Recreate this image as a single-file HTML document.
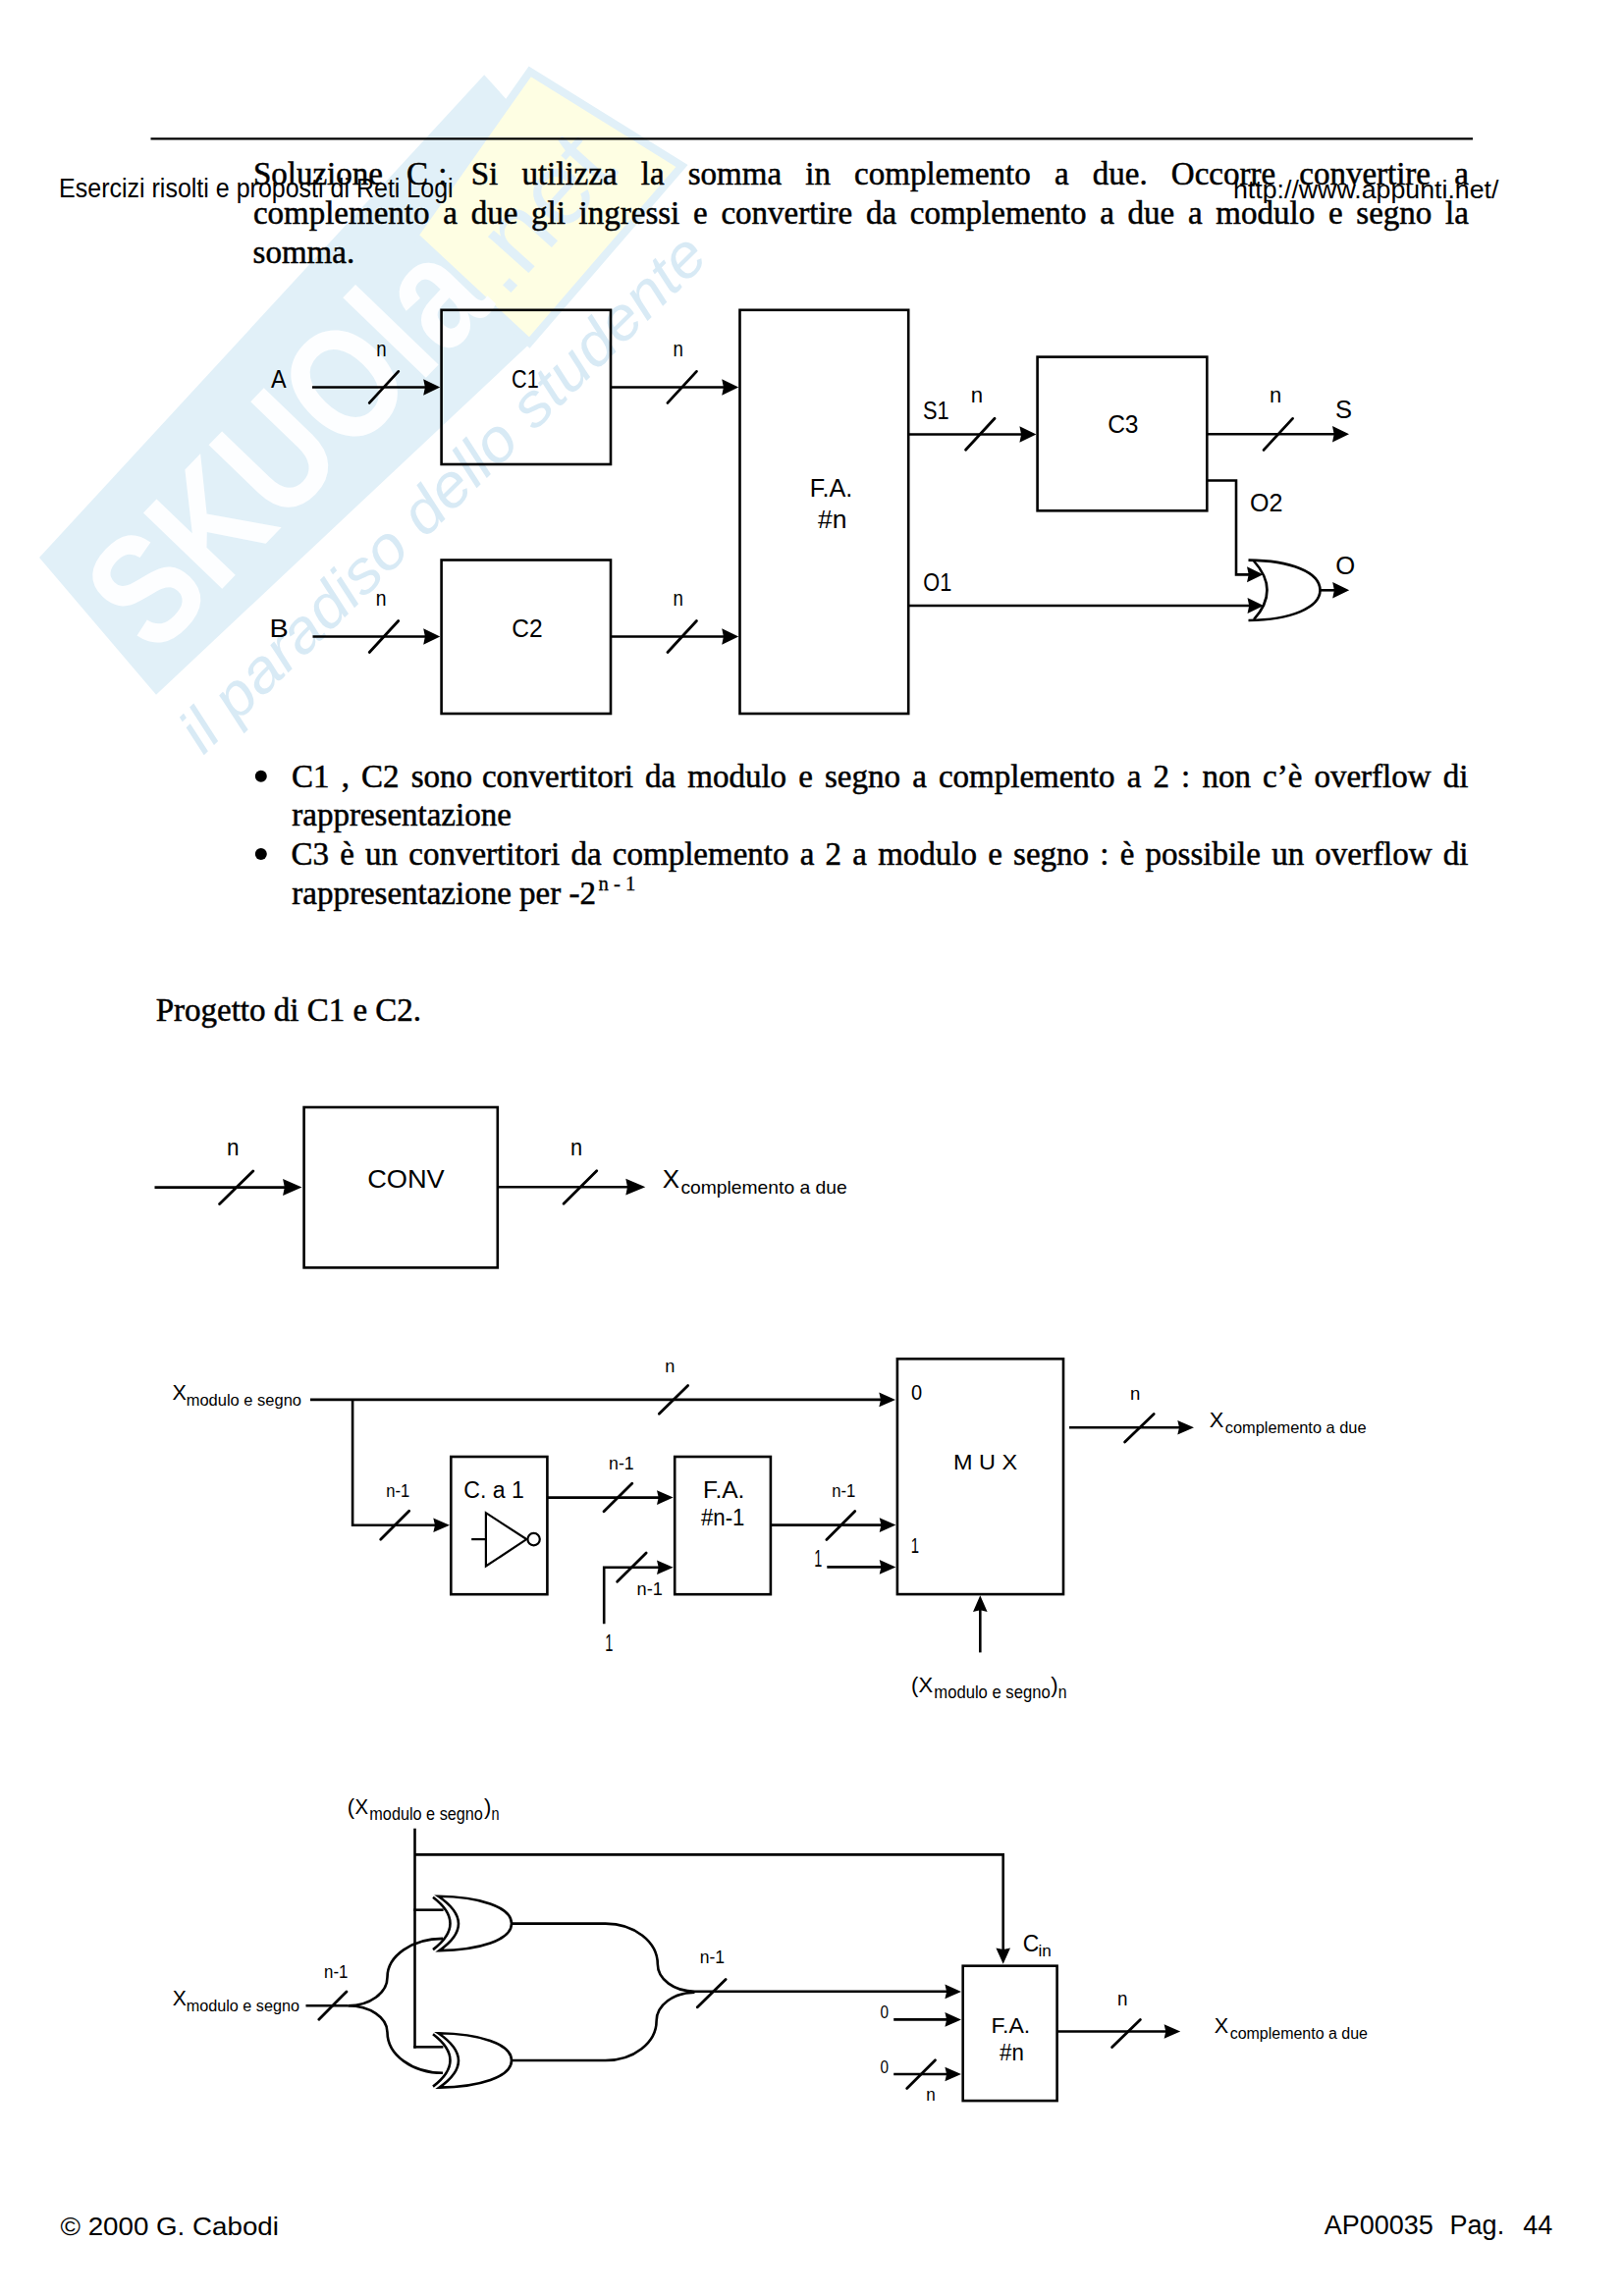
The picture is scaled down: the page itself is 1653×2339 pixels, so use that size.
<!DOCTYPE html>
<html><head><meta charset="utf-8"><title>page</title>
<style>
html,body{margin:0;padding:0;background:#fff;}
body{width:1653px;height:2339px;overflow:hidden;position:relative;}
svg{position:absolute;left:0;top:0;}
</style></head><body>
<svg width="1653" height="2339" viewBox="0 0 1653 2339" xmlns="http://www.w3.org/2000/svg">
<g id="wm">
<polygon points="40,568 493.2,76.3 560,150 545,345 159,707.7" fill="#e1f0f8"/>
<polygon points="539.7,72.9 694.5,169 539.2,349 422,240" fill="#fefee3" stroke="#e1f0f8" stroke-width="8" stroke-linejoin="miter"/>
<text x="8" y="156" transform="translate(40,568) rotate(-46)" font-family="Liberation Sans" font-weight="bold" font-size="162" textLength="500" lengthAdjust="spacingAndGlyphs" fill="#fdfeff">SKUOla</text>
<text x="0" y="0" transform="translate(548,218) rotate(-48) translate(0,33)" font-family="Liberation Sans" font-size="105" text-anchor="middle" fill="#e1f0f8">.net</text>
<text x="0" y="0" transform="translate(207,770) rotate(-44.4)" font-family="Liberation Sans" font-style="italic" font-size="62" textLength="723" lengthAdjust="spacingAndGlyphs" fill="#d8eaf5">il paradiso dello studente</text>
</g>
<g stroke="#000" fill="none">
<line x1="153.5" y1="141.3" x2="1500" y2="141.3" stroke-width="2.2" stroke-linecap="butt"/>
<circle cx="265.8" cy="790.8" r="6" fill="#000" stroke="none"/>
<circle cx="265.8" cy="870.1" r="6" fill="#000" stroke="none"/>
<rect x="449.6" y="315.8" width="172.4" height="157.2" stroke-width="2.6" fill="none"/>
<rect x="449.6" y="570.5" width="172.4" height="156.5" stroke-width="2.6" fill="none"/>
<rect x="753.5" y="315.8" width="171.7" height="411.2" stroke-width="2.6" fill="none"/>
<rect x="1056.6" y="363.6" width="172.7" height="156.7" stroke-width="2.6" fill="none"/>
<line x1="318" y1="394.5" x2="434.2" y2="394.5" stroke-width="2.6" stroke-linecap="butt"/>
<path d="M448.2,394.5 L431.2,402.8 L432.9,394.5 L431.2,386.2 Z" fill="#000" stroke="none"/>
<line x1="376.25" y1="410.4" x2="405.75" y2="378.4" stroke-width="2.8" stroke-linecap="round"/>
<line x1="622" y1="394.5" x2="738.2" y2="394.5" stroke-width="2.6" stroke-linecap="butt"/>
<path d="M752.2,394.5 L735.2,402.8 L736.9,394.5 L735.2,386.2 Z" fill="#000" stroke="none"/>
<line x1="679.95" y1="410.4" x2="709.45" y2="378.4" stroke-width="2.8" stroke-linecap="round"/>
<line x1="318.5" y1="648.5" x2="434.2" y2="648.5" stroke-width="2.6" stroke-linecap="butt"/>
<path d="M448.2,648.5 L431.2,656.8 L432.9,648.5 L431.2,640.2 Z" fill="#000" stroke="none"/>
<line x1="376.25" y1="664.5" x2="405.75" y2="632.5" stroke-width="2.8" stroke-linecap="round"/>
<line x1="622" y1="648.5" x2="738.2" y2="648.5" stroke-width="2.6" stroke-linecap="butt"/>
<path d="M752.2,648.5 L735.2,656.8 L736.9,648.5 L735.2,640.2 Z" fill="#000" stroke="none"/>
<line x1="679.95" y1="664.5" x2="709.45" y2="632.5" stroke-width="2.8" stroke-linecap="round"/>
<line x1="925.2" y1="442.5" x2="1041.4" y2="442.5" stroke-width="2.6" stroke-linecap="butt"/>
<path d="M1055.4,442.5 L1038.4,450.8 L1040.1,442.5 L1038.4,434.2 Z" fill="#000" stroke="none"/>
<line x1="983.55" y1="458.2" x2="1013.05" y2="426.2" stroke-width="2.8" stroke-linecap="round"/>
<line x1="1229.3" y1="442.2" x2="1360" y2="442.2" stroke-width="2.6" stroke-linecap="butt"/>
<path d="M1374,442.2 L1357,450.5 L1358.7,442.2 L1357,433.9 Z" fill="#000" stroke="none"/>
<line x1="1287.05" y1="458.4" x2="1316.55" y2="426.4" stroke-width="2.8" stroke-linecap="round"/>
<path d="M1229.3,489.5 L1259,489.5 L1259,585.4 L1275,585.4" stroke-width="2.6" fill="none" stroke-linejoin="miter"/>
<path d="M1286.5,585.2 L1270,593.2 L1271.7,585.2 L1270,577.2 Z" fill="#000" stroke="none"/>
<line x1="925.2" y1="617" x2="1273.5" y2="617" stroke-width="2.6" stroke-linecap="butt"/>
<path d="M1287,617 L1270.5,625 L1272.2,617 L1270.5,609 Z" fill="#000" stroke="none"/>
<path d="M1271.5,570.6 C1315,571 1344.5,583 1344.5,601.3 C1344.5,619 1315,631.5 1271.5,632" stroke-width="2.6" fill="none"/>
<path d="M1277,571.5 Q1304,601.2 1277,631.2" stroke-width="2.6" fill="none"/>
<line x1="1344.5" y1="601.3" x2="1360.2" y2="601.3" stroke-width="2.6" stroke-linecap="butt"/>
<path d="M1374.2,601.3 L1357.2,609.5 L1358.9,601.3 L1357.2,593.1 Z" fill="#000" stroke="none"/>
<rect x="309.6" y="1128" width="197.2" height="163.4" stroke-width="2.6" fill="none"/>
<line x1="157.5" y1="1209.6" x2="291.1" y2="1209.6" stroke-width="2.6" stroke-linecap="butt"/>
<path d="M307.5,1209.6 L288.1,1218.1 L289.8,1209.6 L288.1,1201.1 Z" fill="#000" stroke="none"/>
<line x1="223.6" y1="1226.55" x2="257.8" y2="1193.05" stroke-width="2.8" stroke-linecap="round"/>
<line x1="506.8" y1="1209.2" x2="640.3" y2="1209.2" stroke-width="2.6" stroke-linecap="butt"/>
<path d="M657.3,1209.2 L637.3,1217.6 L639,1209.2 L637.3,1200.8 Z" fill="#000" stroke="none"/>
<line x1="574.05" y1="1226.35" x2="607.75" y2="1192.85" stroke-width="2.8" stroke-linecap="round"/>
<line x1="316" y1="1425.9" x2="898.3" y2="1425.9" stroke-width="2.6" stroke-linecap="butt"/>
<path d="M912,1425.9 L895.3,1433.2 L897,1425.9 L895.3,1418.6 Z" fill="#000" stroke="none"/>
<line x1="671.35" y1="1440.2" x2="700.65" y2="1411.6" stroke-width="2.8" stroke-linecap="round"/>
<path d="M359.1,1425.9 L359.1,1553.75 L446,1553.75" stroke-width="2.6" fill="none" stroke-linejoin="miter"/>
<path d="M458,1553.75 L441.3,1561.05 L443,1553.75 L441.3,1546.45 Z" fill="#000" stroke="none"/>
<line x1="387.7" y1="1568.3" x2="416.7" y2="1539.3" stroke-width="2.8" stroke-linecap="round"/>
<rect x="459.3" y="1484" width="98.1" height="140.2" stroke-width="2.6" fill="none"/>
<path d="M494.9,1541.2 L494.9,1595.5 L536.3,1568.1 Z" stroke-width="2.2" fill="none"/>
<circle cx="543.6" cy="1568.1" r="6.2" fill="none" stroke-width="2.2"/>
<line x1="480.2" y1="1568.1" x2="494.9" y2="1568.1" stroke-width="2.2" stroke-linecap="butt"/>
<line x1="557.4" y1="1525.6" x2="672" y2="1525.6" stroke-width="2.6" stroke-linecap="butt"/>
<path d="M685.7,1525.6 L669,1532.9 L670.7,1525.6 L669,1518.3 Z" fill="#000" stroke="none"/>
<line x1="615.05" y1="1539.65" x2="643.75" y2="1511.35" stroke-width="2.8" stroke-linecap="round"/>
<rect x="687.2" y="1484" width="97.7" height="140.2" stroke-width="2.6" fill="none"/>
<path d="M615.2,1654.3 L615.2,1596.8 L672,1596.8" stroke-width="2.6" fill="none" stroke-linejoin="miter"/>
<path d="M685.7,1596.8 L669,1604.1 L670.7,1596.8 L669,1589.5 Z" fill="#000" stroke="none"/>
<line x1="628.65" y1="1611.3" x2="658.15" y2="1582.1" stroke-width="2.8" stroke-linecap="round"/>
<line x1="785.2" y1="1553.6" x2="898.7" y2="1553.6" stroke-width="2.6" stroke-linecap="butt"/>
<path d="M912.4,1553.6 L895.7,1560.9 L897.4,1553.6 L895.7,1546.3 Z" fill="#000" stroke="none"/>
<line x1="841.85" y1="1568.45" x2="870.75" y2="1539.55" stroke-width="2.8" stroke-linecap="round"/>
<line x1="842.3" y1="1596.4" x2="898.7" y2="1596.4" stroke-width="2.6" stroke-linecap="butt"/>
<path d="M912.4,1596.4 L895.7,1603.7 L897.4,1596.4 L895.7,1589.1 Z" fill="#000" stroke="none"/>
<rect x="913.9" y="1384.3" width="169.1" height="239.8" stroke-width="2.6" fill="none"/>
<line x1="1089" y1="1454.3" x2="1202.3" y2="1454.3" stroke-width="2.6" stroke-linecap="butt"/>
<path d="M1216,1454.3 L1199.3,1461.6 L1201,1454.3 L1199.3,1447 Z" fill="#000" stroke="none"/>
<line x1="1145.6" y1="1469" x2="1175.2" y2="1440.4" stroke-width="2.8" stroke-linecap="round"/>
<line x1="998.3" y1="1683.4" x2="998.3" y2="1639" stroke-width="2.6" stroke-linecap="butt"/>
<path d="M998.3,1625.3 L1005.6,1642 L998.3,1640.3 L991,1642 Z" fill="#000" stroke="none"/>
<line x1="422.5" y1="1862.7" x2="422.5" y2="2086.6" stroke-width="2.6" stroke-linecap="butt"/>
<path d="M422.5,1889.4 L1021.7,1889.4 L1021.7,1990" stroke-width="2.6" fill="none" stroke-linejoin="miter"/>
<path d="M1021.7,2000.7 L1014.4,1984.4 L1021.7,1986.1 L1029,1984.4 Z" fill="#000" stroke="none"/>
<line x1="421.2" y1="1945.7" x2="451.6" y2="1945.7" stroke-width="2.6" stroke-linecap="butt"/>
<line x1="421.2" y1="2085.3" x2="451.4" y2="2085.3" stroke-width="2.6" stroke-linecap="butt"/>
<path d="M446.4,1931.8 C488,1932.3 521,1942.5 521,1959.5 C521,1976.5 488,1986.6 447.5,1987.1 Q487,1959.5 446.4,1931.8 Z" stroke-width="2.6" fill="none"/>
<path d="M441,1932.8 Q476,1959.5 441,1986.1" stroke-width="2.6" fill="none"/>
<path d="M446.4,2071.3 C488,2071.8 521,2082 521,2099 C521,2116 488,2126.1 447.5,2126.6 Q487,2099 446.4,2071.3 Z" stroke-width="2.6" fill="none"/>
<path d="M441,2072.3 Q476,2099 441,2125.6" stroke-width="2.6" fill="none"/>
<line x1="311.5" y1="2043.3" x2="354.5" y2="2043.3" stroke-width="2.6" stroke-linecap="butt"/>
<path d="M354.5,2043.3 A40,29 0 0 0 394.5,2014.2 A56.5,39.3 0 0 1 451,1974.9" stroke-width="2.6" fill="none"/>
<path d="M354.5,2043.3 A40,27 0 0 1 394.5,2070.2 A56.5,41.6 0 0 0 451,2111.8" stroke-width="2.6" fill="none"/>
<line x1="324.85" y1="2057.3" x2="352.95" y2="2028.9" stroke-width="2.8" stroke-linecap="round"/>
<path d="M521,1959.6 H616.6 A53.2,41.4 0 0 1 669.8,2001 A37.7,27.7 0 0 0 707.5,2028.7 H968" stroke-width="2.6" fill="none"/>
<path d="M522,2099 H616.6 A52,40.3 0 0 0 668.6,2058.7 A38.9,28.9 0 0 1 707.5,2029.8" stroke-width="2.6" fill="none"/>
<path d="M979,2028.9 L962.4,2036.2 L964.1,2028.9 L962.4,2021.6 Z" fill="#000" stroke="none"/>
<line x1="710.3" y1="2044.75" x2="739.1" y2="2016.45" stroke-width="2.8" stroke-linecap="round"/>
<line x1="910.2" y1="2057.4" x2="965.4" y2="2057.4" stroke-width="2.6" stroke-linecap="butt"/>
<path d="M979,2057.4 L962.4,2064.7 L964.1,2057.4 L962.4,2050.1 Z" fill="#000" stroke="none"/>
<line x1="910.2" y1="2113" x2="965.4" y2="2113" stroke-width="2.6" stroke-linecap="butt"/>
<path d="M979,2113 L962.4,2120.3 L964.1,2113 L962.4,2105.7 Z" fill="#000" stroke="none"/>
<line x1="923.7" y1="2127.6" x2="952.5" y2="2098.8" stroke-width="2.8" stroke-linecap="round"/>
<rect x="980.7" y="2002.7" width="95.9" height="137.4" stroke-width="2.6" fill="none"/>
<line x1="1076.6" y1="2069.5" x2="1188.6" y2="2069.5" stroke-width="2.6" stroke-linecap="butt"/>
<path d="M1202.2,2069.5 L1185.6,2076.8 L1187.3,2069.5 L1185.6,2062.2 Z" fill="#000" stroke="none"/>
<line x1="1132.6" y1="2085.4" x2="1161.4" y2="2057.4" stroke-width="2.8" stroke-linecap="round"/>
</g>
<g fill="#000">
<text x="60.08" y="200.9" font-family="'Liberation Sans'" font-size="27.5" textLength="401.53" lengthAdjust="spacingAndGlyphs">Esercizi risolti e proposti di Reti Logi</text>
<text x="1255.95" y="202.3" font-family="'Liberation Sans'" font-size="25.5" textLength="270.49" lengthAdjust="spacingAndGlyphs">http://www.appunti.net/</text>
<text x="61.5" y="2276.6" font-family="'Liberation Sans'" font-size="26.5" textLength="222.43" lengthAdjust="spacingAndGlyphs">© 2000 G. Cabodi</text>
<text x="1348.7" y="2276.3" font-family="'Liberation Sans'" font-size="27">AP00035</text>
<text x="1476.6" y="2276.3" font-family="'Liberation Sans'" font-size="27">Pag.</text>
<text x="1551.2" y="2276.3" font-family="'Liberation Sans'" font-size="27">44</text>
<text x="257.6" y="267.6" font-family="'Liberation Serif'" font-size="33" stroke="#000" stroke-width="0.5">somma.</text>
<text x="297.3" y="841.2" font-family="'Liberation Serif'" font-size="33" stroke="#000" stroke-width="0.5">rappresentazione</text>
<text x="297.3" y="921.4" font-family="'Liberation Serif'" font-size="33" stroke="#000" stroke-width="0.5">rappresentazione per -2</text>
<text x="609.5" y="906.6" font-family="'Liberation Serif'" font-size="21" textLength="37.99" lengthAdjust="spacingAndGlyphs" stroke="#000" stroke-width="0.3">n - 1</text>
<text x="158.7" y="1039.8" font-family="'Liberation Serif'" font-size="33" stroke="#000" stroke-width="0.5">Progetto di C1 e C2.</text>
<text x="276" y="394.8" font-family="'Liberation Sans'" font-size="26" textLength="15.61" lengthAdjust="spacingAndGlyphs">A</text>
<text x="383.23" y="362.6" font-family="'Liberation Sans'" font-size="21.5" textLength="10.4" lengthAdjust="spacingAndGlyphs">n</text>
<text x="521.08" y="394.8" font-family="'Liberation Sans'" font-size="26.5" textLength="27.62" lengthAdjust="spacingAndGlyphs">C1</text>
<text x="685.53" y="362.6" font-family="'Liberation Sans'" font-size="21.5" textLength="10.4" lengthAdjust="spacingAndGlyphs">n</text>
<text x="274.59" y="648.6" font-family="'Liberation Sans'" font-size="26" textLength="19.2" lengthAdjust="spacingAndGlyphs">B</text>
<text x="382.7" y="616.9" font-family="'Liberation Sans'" font-size="21.5" textLength="10.76" lengthAdjust="spacingAndGlyphs">n</text>
<text x="521.26" y="648.6" font-family="'Liberation Sans'" font-size="26" textLength="31.38" lengthAdjust="spacingAndGlyphs">C2</text>
<text x="685.53" y="616.9" font-family="'Liberation Sans'" font-size="21.5" textLength="10.4" lengthAdjust="spacingAndGlyphs">n</text>
<text x="824.86" y="505.7" font-family="'Liberation Sans'" font-size="26" textLength="43.5" lengthAdjust="spacingAndGlyphs">F.A.</text>
<text x="833" y="537.8" font-family="'Liberation Sans'" font-size="26" textLength="29.49" lengthAdjust="spacingAndGlyphs">#n</text>
<text x="939.96" y="426.5" font-family="'Liberation Sans'" font-size="26" textLength="26.62" lengthAdjust="spacingAndGlyphs">S1</text>
<text x="988.89" y="409.8" font-family="'Liberation Sans'" font-size="22" textLength="12.36" lengthAdjust="spacingAndGlyphs">n</text>
<text x="1128.14" y="441.4" font-family="'Liberation Sans'" font-size="25.6" textLength="31.38" lengthAdjust="spacingAndGlyphs">C3</text>
<text x="1293" y="409.8" font-family="'Liberation Sans'" font-size="22" textLength="12.24" lengthAdjust="spacingAndGlyphs">n</text>
<text x="1360.1" y="426.2" font-family="'Liberation Sans'" font-size="25.5" textLength="17.01" lengthAdjust="spacingAndGlyphs">S</text>
<text x="1273.12" y="521.3" font-family="'Liberation Sans'" font-size="25.5" textLength="33.45" lengthAdjust="spacingAndGlyphs">O2</text>
<text x="940.27" y="601.5" font-family="'Liberation Sans'" font-size="26" textLength="28.92" lengthAdjust="spacingAndGlyphs">O1</text>
<text x="1360.29" y="584.8" font-family="'Liberation Sans'" font-size="25.5" textLength="19.94" lengthAdjust="spacingAndGlyphs">O</text>
<text x="374.17" y="1209.6" font-family="'Liberation Sans'" font-size="26.4" textLength="78.62" lengthAdjust="spacingAndGlyphs">CONV</text>
<text x="231.06" y="1177" font-family="'Liberation Sans'" font-size="24" textLength="12.5" lengthAdjust="spacingAndGlyphs">n</text>
<text x="581.09" y="1176.9" font-family="'Liberation Sans'" font-size="24" textLength="12.13" lengthAdjust="spacingAndGlyphs">n</text>
<text x="674.7" y="1209.6" font-family="'Liberation Sans'" font-size="26.7" textLength="17.31" lengthAdjust="spacingAndGlyphs">X</text>
<text x="693.4" y="1215.7" font-family="'Liberation Sans'" font-size="19" textLength="169.38" lengthAdjust="spacingAndGlyphs">complemento a due</text>
<text x="175.4" y="1425.6" font-family="'Liberation Sans'" font-size="22.6" textLength="14.37" lengthAdjust="spacingAndGlyphs">X</text>
<text x="189.67" y="1431.6" font-family="'Liberation Sans'" font-size="16" textLength="117.33" lengthAdjust="spacingAndGlyphs">modulo e segno</text>
<text x="677.24" y="1397.7" font-family="'Liberation Sans'" font-size="19" textLength="10.1" lengthAdjust="spacingAndGlyphs">n</text>
<text x="393.33" y="1524.7" font-family="'Liberation Sans'" font-size="19" textLength="23.97" lengthAdjust="spacingAndGlyphs">n-1</text>
<text x="472.3" y="1525.6" font-family="'Liberation Sans'" font-size="23" textLength="61.5" lengthAdjust="spacingAndGlyphs">C. a 1</text>
<text x="620.07" y="1497" font-family="'Liberation Sans'" font-size="19" textLength="25.66" lengthAdjust="spacingAndGlyphs">n-1</text>
<text x="716.13" y="1525.8" font-family="'Liberation Sans'" font-size="23" textLength="42.25" lengthAdjust="spacingAndGlyphs">F.A.</text>
<text x="714" y="1553.6" font-family="'Liberation Sans'" font-size="23" textLength="44.46" lengthAdjust="spacingAndGlyphs">#n-1</text>
<text x="648.54" y="1624.8" font-family="'Liberation Sans'" font-size="19" textLength="26.3" lengthAdjust="spacingAndGlyphs">n-1</text>
<text x="616.16" y="1681.7" font-family="'Liberation Sans'" font-size="23" textLength="8.14" lengthAdjust="spacingAndGlyphs">1</text>
<text x="847.22" y="1524.9" font-family="'Liberation Sans'" font-size="19" textLength="24.18" lengthAdjust="spacingAndGlyphs">n-1</text>
<text x="829.27" y="1596.4" font-family="'Liberation Sans'" font-size="23" textLength="8.02" lengthAdjust="spacingAndGlyphs">1</text>
<text x="928" y="1425.6" font-family="'Liberation Sans'" font-size="22.7" textLength="11.15" lengthAdjust="spacingAndGlyphs">0</text>
<text x="927.83" y="1581.6" font-family="'Liberation Sans'" font-size="22.2" textLength="8.3" lengthAdjust="spacingAndGlyphs">1</text>
<text x="971.08" y="1496.7" font-family="'Liberation Sans'" font-size="22.9" textLength="65.1" lengthAdjust="spacingAndGlyphs">M U X</text>
<text x="1151.12" y="1425.7" font-family="'Liberation Sans'" font-size="19" textLength="10.33" lengthAdjust="spacingAndGlyphs">n</text>
<text x="1231.7" y="1454.4" font-family="'Liberation Sans'" font-size="22.5" textLength="14.61" lengthAdjust="spacingAndGlyphs">X</text>
<text x="1247.7" y="1459.7" font-family="'Liberation Sans'" font-size="16.5" textLength="143.88" lengthAdjust="spacingAndGlyphs">complemento a due</text>
<text x="927.9" y="1723.5" font-family="'Liberation Sans'" font-size="22">(</text>
<text x="935.5" y="1723.5" font-family="'Liberation Sans'" font-size="22" textLength="14.67" lengthAdjust="spacingAndGlyphs">X</text>
<text x="951.32" y="1729.7" font-family="'Liberation Sans'" font-size="19" textLength="118.37" lengthAdjust="spacingAndGlyphs">modulo e segno</text>
<text x="1070.3" y="1723.5" font-family="'Liberation Sans'" font-size="22">)</text>
<text x="1077.7" y="1729.7" font-family="'Liberation Sans'" font-size="17.5" textLength="8.76" lengthAdjust="spacingAndGlyphs">n</text>
<text x="353.8" y="1847.7" font-family="'Liberation Sans'" font-size="22">(</text>
<text x="361.6" y="1847.7" font-family="'Liberation Sans'" font-size="22" textLength="13.6" lengthAdjust="spacingAndGlyphs">X</text>
<text x="376.35" y="1853.6" font-family="'Liberation Sans'" font-size="19" textLength="115.54" lengthAdjust="spacingAndGlyphs">modulo e segno</text>
<text x="493" y="1847.7" font-family="'Liberation Sans'" font-size="22">)</text>
<text x="500.57" y="1853.6" font-family="'Liberation Sans'" font-size="17.5" textLength="8.03" lengthAdjust="spacingAndGlyphs">n</text>
<text x="330.01" y="2014.7" font-family="'Liberation Sans'" font-size="19" textLength="24.39" lengthAdjust="spacingAndGlyphs">n-1</text>
<text x="175.7" y="2042.7" font-family="'Liberation Sans'" font-size="22.7" textLength="14.12" lengthAdjust="spacingAndGlyphs">X</text>
<text x="189.69" y="2048.6" font-family="'Liberation Sans'" font-size="16" textLength="115.31" lengthAdjust="spacingAndGlyphs">modulo e segno</text>
<text x="712.68" y="2000.4" font-family="'Liberation Sans'" font-size="19" textLength="25.35" lengthAdjust="spacingAndGlyphs">n-1</text>
<text x="896.6" y="2055.8" font-family="'Liberation Sans'" font-size="18" textLength="8.51" lengthAdjust="spacingAndGlyphs">0</text>
<text x="896.6" y="2111.7" font-family="'Liberation Sans'" font-size="18" textLength="8.51" lengthAdjust="spacingAndGlyphs">0</text>
<text x="943.18" y="2139.7" font-family="'Liberation Sans'" font-size="18.5" textLength="9.49" lengthAdjust="spacingAndGlyphs">n</text>
<text x="1041.71" y="1987.8" font-family="'Liberation Sans'" font-size="23" textLength="16.5" lengthAdjust="spacingAndGlyphs">C</text>
<text x="1057.5" y="1992.9" font-family="'Liberation Sans'" font-size="15.6" textLength="13.34" lengthAdjust="spacingAndGlyphs">in</text>
<text x="1009.49" y="2070.5" font-family="'Liberation Sans'" font-size="22.7" textLength="39.64" lengthAdjust="spacingAndGlyphs">F.A.</text>
<text x="1018" y="2098.9" font-family="'Liberation Sans'" font-size="23.6" textLength="24.76" lengthAdjust="spacingAndGlyphs">#n</text>
<text x="1138.03" y="2043.1" font-family="'Liberation Sans'" font-size="19.5" textLength="10.48" lengthAdjust="spacingAndGlyphs">n</text>
<text x="1236.7" y="2070.5" font-family="'Liberation Sans'" font-size="22.5" textLength="14.41" lengthAdjust="spacingAndGlyphs">X</text>
<text x="1252.7" y="2076.6" font-family="'Liberation Sans'" font-size="16" textLength="140.2" lengthAdjust="spacingAndGlyphs">complemento a due</text>
<text x="257.9" y="187.5" font-family="'Liberation Serif'" font-size="33" stroke="#000" stroke-width="0.5">Soluzione</text>
<text x="414.07" y="187.5" font-family="'Liberation Serif'" font-size="33" stroke="#000" stroke-width="0.5">C</text>
<text x="446.37" y="187.5" font-family="'Liberation Serif'" font-size="33" stroke="#000" stroke-width="0.5">:</text>
<text x="479.72" y="187.5" font-family="'Liberation Serif'" font-size="33" stroke="#000" stroke-width="0.5">Si</text>
<text x="531.43" y="187.5" font-family="'Liberation Serif'" font-size="33" stroke="#000" stroke-width="0.5">utilizza</text>
<text x="652.73" y="187.5" font-family="'Liberation Serif'" font-size="33" stroke="#000" stroke-width="0.5">la</text>
<text x="700.74" y="187.5" font-family="'Liberation Serif'" font-size="33" stroke="#000" stroke-width="0.5">somma</text>
<text x="820.25" y="187.5" font-family="'Liberation Serif'" font-size="33" stroke="#000" stroke-width="0.5">in</text>
<text x="870.1" y="187.5" font-family="'Liberation Serif'" font-size="33" stroke="#000" stroke-width="0.5">complemento</text>
<text x="1073.9" y="187.5" font-family="'Liberation Serif'" font-size="33" stroke="#000" stroke-width="0.5">a</text>
<text x="1112.74" y="187.5" font-family="'Liberation Serif'" font-size="33" stroke="#000" stroke-width="0.5">due.</text>
<text x="1192.82" y="187.5" font-family="'Liberation Serif'" font-size="33" stroke="#000" stroke-width="0.5">Occorre</text>
<text x="1323.26" y="187.5" font-family="'Liberation Serif'" font-size="33" stroke="#000" stroke-width="0.5">convertire</text>
<text x="1481.2" y="187.5" font-family="'Liberation Serif'" font-size="33" stroke="#000" stroke-width="0.5">a</text>
<text x="257.9" y="227.7" font-family="'Liberation Serif'" font-size="33" stroke="#000" stroke-width="0.5">complemento</text>
<text x="451.26" y="227.7" font-family="'Liberation Serif'" font-size="33" stroke="#000" stroke-width="0.5">a</text>
<text x="479.65" y="227.7" font-family="'Liberation Serif'" font-size="33" stroke="#000" stroke-width="0.5">due</text>
<text x="541.04" y="227.7" font-family="'Liberation Serif'" font-size="33" stroke="#000" stroke-width="0.5">gli</text>
<text x="589.62" y="227.7" font-family="'Liberation Serif'" font-size="33" stroke="#000" stroke-width="0.5">ingressi</text>
<text x="706.02" y="227.7" font-family="'Liberation Serif'" font-size="33" stroke="#000" stroke-width="0.5">e</text>
<text x="734.41" y="227.7" font-family="'Liberation Serif'" font-size="33" stroke="#000" stroke-width="0.5">convertire</text>
<text x="881.91" y="227.7" font-family="'Liberation Serif'" font-size="33" stroke="#000" stroke-width="0.5">da</text>
<text x="926.8" y="227.7" font-family="'Liberation Serif'" font-size="33" stroke="#000" stroke-width="0.5">complemento</text>
<text x="1120.16" y="227.7" font-family="'Liberation Serif'" font-size="33" stroke="#000" stroke-width="0.5">a</text>
<text x="1148.55" y="227.7" font-family="'Liberation Serif'" font-size="33" stroke="#000" stroke-width="0.5">due</text>
<text x="1209.94" y="227.7" font-family="'Liberation Serif'" font-size="33" stroke="#000" stroke-width="0.5">a</text>
<text x="1238.33" y="227.7" font-family="'Liberation Serif'" font-size="33" stroke="#000" stroke-width="0.5">modulo</text>
<text x="1352.91" y="227.7" font-family="'Liberation Serif'" font-size="33" stroke="#000" stroke-width="0.5">e</text>
<text x="1381.3" y="227.7" font-family="'Liberation Serif'" font-size="33" stroke="#000" stroke-width="0.5">segno</text>
<text x="1472.03" y="227.7" font-family="'Liberation Serif'" font-size="33" stroke="#000" stroke-width="0.5">la</text>
<text x="297" y="801.6" font-family="'Liberation Serif'" font-size="33" stroke="#000" stroke-width="0.5">C1</text>
<text x="347.64" y="801.6" font-family="'Liberation Serif'" font-size="33" stroke="#000" stroke-width="0.5">,</text>
<text x="368.03" y="801.6" font-family="'Liberation Serif'" font-size="33" stroke="#000" stroke-width="0.5">C2</text>
<text x="418.67" y="801.6" font-family="'Liberation Serif'" font-size="33" stroke="#000" stroke-width="0.5">sono</text>
<text x="490.91" y="801.6" font-family="'Liberation Serif'" font-size="33" stroke="#000" stroke-width="0.5">convertitori</text>
<text x="656.99" y="801.6" font-family="'Liberation Serif'" font-size="33" stroke="#000" stroke-width="0.5">da</text>
<text x="700.27" y="801.6" font-family="'Liberation Serif'" font-size="33" stroke="#000" stroke-width="0.5">modulo</text>
<text x="813.24" y="801.6" font-family="'Liberation Serif'" font-size="33" stroke="#000" stroke-width="0.5">e</text>
<text x="840.02" y="801.6" font-family="'Liberation Serif'" font-size="33" stroke="#000" stroke-width="0.5">segno</text>
<text x="929.15" y="801.6" font-family="'Liberation Serif'" font-size="33" stroke="#000" stroke-width="0.5">a</text>
<text x="955.93" y="801.6" font-family="'Liberation Serif'" font-size="33" stroke="#000" stroke-width="0.5">complemento</text>
<text x="1147.68" y="801.6" font-family="'Liberation Serif'" font-size="33" stroke="#000" stroke-width="0.5">a</text>
<text x="1174.46" y="801.6" font-family="'Liberation Serif'" font-size="33" stroke="#000" stroke-width="0.5">2</text>
<text x="1203.09" y="801.6" font-family="'Liberation Serif'" font-size="33" stroke="#000" stroke-width="0.5">:</text>
<text x="1224.39" y="801.6" font-family="'Liberation Serif'" font-size="33" stroke="#000" stroke-width="0.5">non</text>
<text x="1286.02" y="801.6" font-family="'Liberation Serif'" font-size="33" stroke="#000" stroke-width="0.5">c’è</text>
<text x="1338.44" y="801.6" font-family="'Liberation Serif'" font-size="33" stroke="#000" stroke-width="0.5">overflow</text>
<text x="1469.7" y="801.6" font-family="'Liberation Serif'" font-size="33" stroke="#000" stroke-width="0.5">di</text>
<text x="296.5" y="880.9" font-family="'Liberation Serif'" font-size="33" stroke="#000" stroke-width="0.5">C3</text>
<text x="346.23" y="880.9" font-family="'Liberation Serif'" font-size="33" stroke="#000" stroke-width="0.5">è</text>
<text x="372.1" y="880.9" font-family="'Liberation Serif'" font-size="33" stroke="#000" stroke-width="0.5">un</text>
<text x="416.33" y="880.9" font-family="'Liberation Serif'" font-size="33" stroke="#000" stroke-width="0.5">convertitori</text>
<text x="581.5" y="880.9" font-family="'Liberation Serif'" font-size="33" stroke="#000" stroke-width="0.5">da</text>
<text x="623.87" y="880.9" font-family="'Liberation Serif'" font-size="33" stroke="#000" stroke-width="0.5">complemento</text>
<text x="814.7" y="880.9" font-family="'Liberation Serif'" font-size="33" stroke="#000" stroke-width="0.5">a</text>
<text x="840.57" y="880.9" font-family="'Liberation Serif'" font-size="33" stroke="#000" stroke-width="0.5">2</text>
<text x="868.3" y="880.9" font-family="'Liberation Serif'" font-size="33" stroke="#000" stroke-width="0.5">a</text>
<text x="894.17" y="880.9" font-family="'Liberation Serif'" font-size="33" stroke="#000" stroke-width="0.5">modulo</text>
<text x="1006.23" y="880.9" font-family="'Liberation Serif'" font-size="33" stroke="#000" stroke-width="0.5">e</text>
<text x="1032.1" y="880.9" font-family="'Liberation Serif'" font-size="33" stroke="#000" stroke-width="0.5">segno</text>
<text x="1120.31" y="880.9" font-family="'Liberation Serif'" font-size="33" stroke="#000" stroke-width="0.5">:</text>
<text x="1140.7" y="880.9" font-family="'Liberation Serif'" font-size="33" stroke="#000" stroke-width="0.5">è</text>
<text x="1166.57" y="880.9" font-family="'Liberation Serif'" font-size="33" stroke="#000" stroke-width="0.5">possibile</text>
<text x="1295.13" y="880.9" font-family="'Liberation Serif'" font-size="33" stroke="#000" stroke-width="0.5">un</text>
<text x="1339.35" y="880.9" font-family="'Liberation Serif'" font-size="33" stroke="#000" stroke-width="0.5">overflow</text>
<text x="1469.7" y="880.9" font-family="'Liberation Serif'" font-size="33" stroke="#000" stroke-width="0.5">di</text>
</g>
</svg>
</body></html>
